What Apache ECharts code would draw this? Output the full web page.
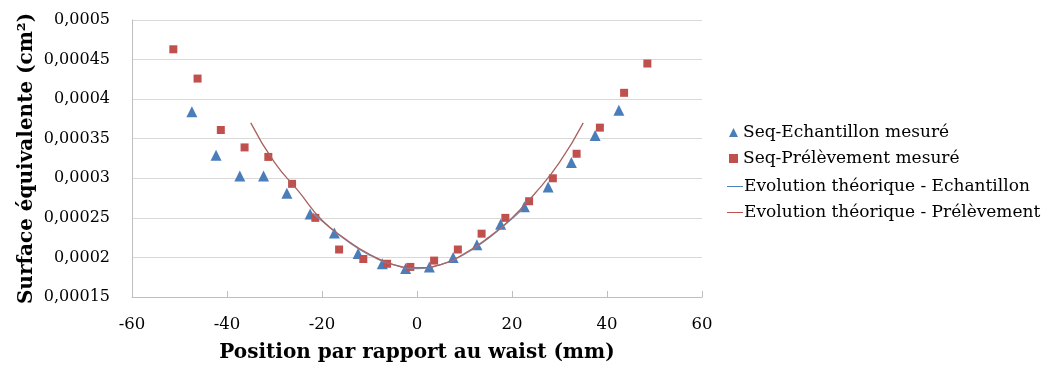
<!DOCTYPE html>
<html><head><meta charset="utf-8">
<script src="https://cdn.jsdelivr.net/npm/echarts@6/dist/echarts.min.js"></script>
<style>html,body{margin:0;padding:0;background:#fff}#c{width:1054px;height:365px}</style>
</head><body><div id="c"></div>
<script>
// Measured points: Seq-Echantillon
const echX = [-47.4,-42.3,-37.3,-32.3,-27.4,-22.5,-17.4,-12.4,-7.3,-2.4,2.6,7.6,12.6,17.6,22.6,27.6,32.5,37.5,42.5];
const echY = [0.000384,0.000329,0.000303,0.000303,0.000281,0.000255,0.000231,0.000205,0.000192,0.000186,0.000188,0.000200,0.000216,0.000242,0.000264,0.000289,0.000320,0.000354,0.000386];
// Measured points: Seq-Prélèvement
const preX = [-51.3,-46.2,-41.3,-36.3,-31.3,-26.3,-21.4,-16.4,-11.3,-6.3,-1.4,3.6,8.6,13.6,18.6,23.6,28.6,33.6,38.5,43.6,48.5];
const preY = [0.000463,0.000426,0.000361,0.000339,0.000327,0.000293,0.000250,0.000210,0.000198,0.000192,0.000188,0.000196,0.000210,0.000230,0.000250,0.000271,0.000300,0.000331,0.000364,0.000408,0.000445];
// Theoretical curves
const thEchX = [-22,-20,-15,-10,-5,0,5,10,15,20,22];
const thEchY = [0.000256,0.000246,0.000222,0.000203,0.000191,0.000186,0.000191,0.000204,0.000224,0.000249,0.000260];
const thPreX = [-35,-30,-25,-20,-15,-10,-5,0,5,10,15,20,25,30,35];
const thPreY = [0.000370,0.000320,0.000284,0.000247,0.000223,0.000204,0.000191,0.000187,0.000191,0.000205,0.000225,0.000250,0.000282,0.000320,0.000370];
const xTicks = {min:-60, max:60, interval:20};
const yTicks = {min:0.00015, max:0.0005, interval:0.00005};

const zip = (a,b) => a.map((v,i)=>[v,b[i]]);
const FONT = '"DejaVu Serif", serif';
const fmt = v => parseFloat(Number(v).toPrecision(6)).toString().replace('.', ',');

const chart = echarts.init(document.getElementById('c'));
chart.setOption({
  animation:false,
  backgroundColor:'#fff',
  grid:{left:132, right:352, top:20, bottom:68, containLabel:false, outerBoundsMode:'none'},
  xAxis:{type:'value', min:xTicks.min, max:xTicks.max, interval:xTicks.interval,
    name:'Position par rapport au waist (mm)', nameLocation:'middle', nameGap:46, nameMoveOverlap:false,
    nameTextStyle:{fontFamily:FONT, fontWeight:'bold', fontSize:20, color:'#000'},
    axisLine:{onZero:false, lineStyle:{color:'#bfbfbf'}},
    axisTick:{show:true, inside:true, length:6, lineStyle:{color:'#bfbfbf'}},
    axisLabel:{fontFamily:FONT, fontSize:16.5, color:'#000', margin:19},
    splitLine:{show:false}},
  yAxis:{type:'value', min:yTicks.min, max:yTicks.max, interval:yTicks.interval,
    name:'Surface équivalente (cm²)', nameLocation:'middle', nameGap:95, nameRotate:90, nameMoveOverlap:false,
    nameTextStyle:{fontFamily:FONT, fontWeight:'bold', fontSize:20, color:'#000'},
    axisLine:{show:true, onZero:false, lineStyle:{color:'#bfbfbf'}},
    axisTick:{show:false},
    axisLabel:{fontFamily:FONT, fontSize:16, color:'#000', margin:22, formatter:fmt},
    splitLine:{lineStyle:{color:'#d9d9d9'}}},
  legend:[
    {orient:'vertical', left:724, top:119, itemGap:9, itemWidth:9, itemHeight:9,
     textStyle:{fontFamily:FONT, fontSize:17, color:'#000'},
     data:[{name:'Seq-Echantillon mesuré', icon:'triangle'},{name:'Seq-Prélèvement mesuré', icon:'rect'}]},
    {orient:'vertical', left:722, top:173, itemGap:9, itemWidth:16, itemHeight:18,
     textStyle:{fontFamily:FONT, fontSize:17, color:'#000', padding:[0,0,0,-4]},
     data:[{name:'Evolution théorique - Echantillon', icon:'path://M0,9 L16,9 L16,10 L0,10 Z'},
           {name:'Evolution théorique - Prélèvement', icon:'path://M0,9 L16,9 L16,10 L0,10 Z'}]}
  ],
  series:[
    {name:'Evolution théorique - Echantillon', type:'line', data:zip(thEchX,thEchY), smooth:true, showSymbol:false,
     lineStyle:{color:'#7f8fb3', width:1.3}, itemStyle:{color:'#4F81BD'}},
    {name:'Evolution théorique - Prélèvement', type:'line', data:zip(thPreX,thPreY), smooth:true, showSymbol:false,
     lineStyle:{color:'#a9625f', width:1.3}, itemStyle:{color:'#C0504D'}},
    {name:'Seq-Echantillon mesuré', type:'scatter', data:zip(echX,echY), symbol:'triangle', symbolSize:11,
     itemStyle:{color:'#4A7EBB', opacity:1}},
    {name:'Seq-Prélèvement mesuré', type:'scatter', data:zip(preX,preY), symbol:'rect', symbolSize:8,
     itemStyle:{color:'#C0504D', opacity:1}}
  ]
});
</script></body></html>
